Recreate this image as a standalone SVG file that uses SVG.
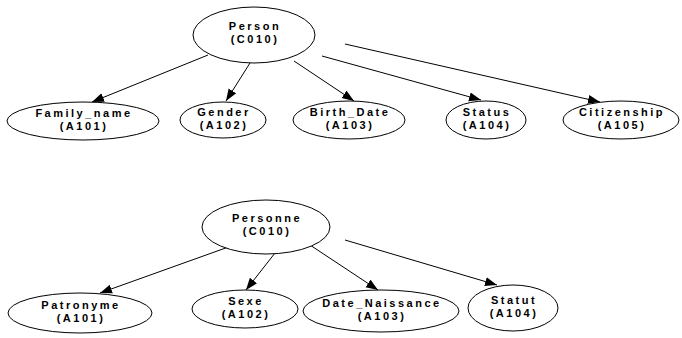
<svg xmlns="http://www.w3.org/2000/svg" width="682" height="338" viewBox="0 0 682 338">
<style>
ellipse{fill:#fff;stroke:#000;stroke-width:1}
text{font-family:"Liberation Sans",Arial,sans-serif;font-size:11px;font-weight:bold;letter-spacing:2.5px;text-anchor:middle;fill:#000}
.e{stroke:#000;stroke-width:1;fill:none}
</style>
<defs>
<marker id="a" viewBox="0 0 12 10" refX="12" refY="5" markerWidth="12" markerHeight="10" markerUnits="userSpaceOnUse" orient="auto">
<path d="M0,0.5 L12,5 L0,9.5 Z" fill="#000"/>
</marker>
</defs>
<g id="edges">
<line class="e" x1="208" y1="55" x2="92" y2="102" marker-end="url(#a)"/>
<line class="e" x1="250" y1="63" x2="226" y2="101" marker-end="url(#a)"/>
<line class="e" x1="294" y1="61" x2="354" y2="101" marker-end="url(#a)"/>
<line class="e" x1="322" y1="56" x2="481" y2="100" marker-end="url(#a)"/>
<line class="e" x1="345" y1="44" x2="600" y2="102" marker-end="url(#a)"/>
<line class="e" x1="234" y1="245" x2="100" y2="293" marker-end="url(#a)"/>
<line class="e" x1="275" y1="253" x2="246" y2="290" marker-end="url(#a)"/>
<line class="e" x1="310" y1="245" x2="378" y2="290" marker-end="url(#a)"/>
<line class="e" x1="345" y1="240" x2="497" y2="285" marker-end="url(#a)"/>
</g>
<g id="person"><ellipse cx="254" cy="35" rx="61" ry="28"/><text x="255" y="30">Person</text><text x="255" y="43">(C010)</text></g>
<g id="family_name"><ellipse cx="83" cy="121" rx="76" ry="19"/><text x="84" y="117">Family_name</text><text x="84" y="130">(A101)</text></g>
<g id="gender"><ellipse cx="223" cy="120" rx="43" ry="18"/><text x="224" y="116">Gender</text><text x="224" y="129">(A102)</text></g>
<g id="birth_date"><ellipse cx="349" cy="120" rx="56" ry="19"/><text x="350" y="116">Birth_Date</text><text x="350" y="129">(A103)</text></g>
<g id="status"><ellipse cx="486" cy="120" rx="40" ry="19"/><text x="487" y="116">Status</text><text x="487" y="129">(A104)</text></g>
<g id="citizenship"><ellipse cx="621" cy="120" rx="58" ry="19"/><text x="622" y="116">Citizenship</text><text x="622" y="129">(A105)</text></g>
<g id="personne"><ellipse cx="266" cy="227" rx="64" ry="27"/><text x="267" y="222">Personne</text><text x="267" y="235">(C010)</text></g>
<g id="patronyme"><ellipse cx="80" cy="313" rx="72" ry="20"/><text x="81" y="309">Patronyme</text><text x="81" y="322">(A101)</text></g>
<g id="sexe"><ellipse cx="245" cy="309" rx="53" ry="19"/><text x="246" y="305">Sexe</text><text x="246" y="318">(A102)</text></g>
<g id="date_naissance"><ellipse cx="381" cy="311" rx="78" ry="21"/><text x="382" y="307">Date_Naissance</text><text x="382" y="320">(A103)</text></g>
<g id="statut"><ellipse cx="513" cy="308" rx="45" ry="23"/><text x="514" y="304">Statut</text><text x="514" y="317">(A104)</text></g>
</svg>
